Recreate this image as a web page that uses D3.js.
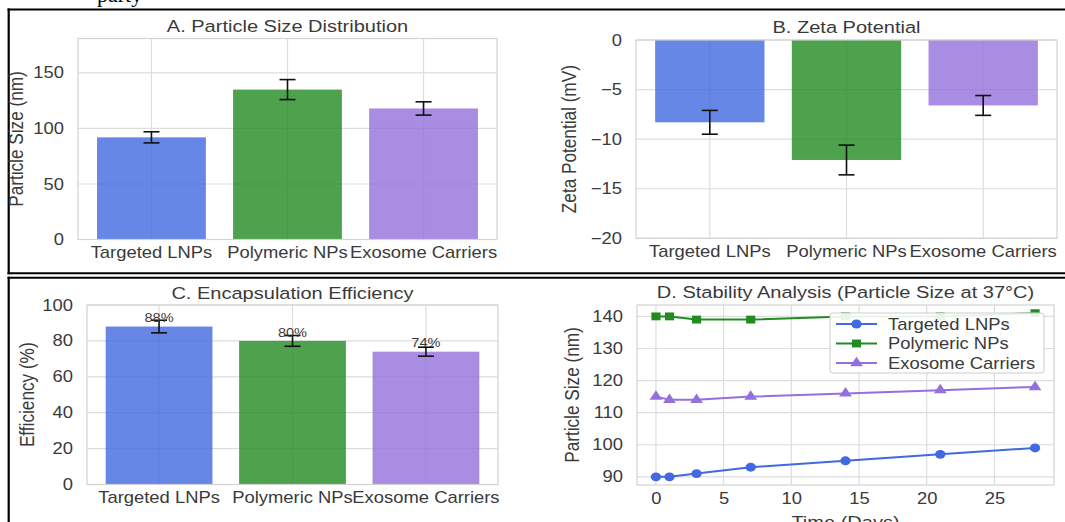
<!DOCTYPE html>
<html><head><meta charset="utf-8">
<script src="https://cdn.jsdelivr.net/npm/d3@7"></script>
<style>body{margin:0;background:#fff;} svg{display:block;}</style>
</head><body>
<script>
// ---------- data ----------
const categories = ["Targeted LNPs", "Polymeric NPs", "Exosome Carriers"];
const particleSize = [92, 135, 118];
const particleSizeErr = [5, 9, 6];
const zetaPotential = [-8.3, -12.1, -6.6];
const zetaErr = [1.2, 1.5, 1.0];
const efficiency = [88, 80, 74];
const efficiencyErr = [3.5, 3, 2.5];
const days = [0, 1, 3, 7, 14, 21, 28];
const stabilityLNP = [90, 90, 91, 93, 95, 97, 99];
const stabilityPoly = [140, 140, 139, 139, 140, 140, 141];
const stabilityExo = [115, 114, 114, 115, 116, 117, 118];
const sizeTicks = [0, 50, 100, 150];
const zetaTicks = [0, -5, -10, -15, -20];
const effTicks = [0, 20, 40, 60, 80, 100];
const dayTicks = [0, 5, 10, 15, 20, 25];
const stabTicks = [90, 100, 110, 120, 130, 140];
const barColors = ["#4169E1", "#228B22", "#9370DB"];

// ---------- style ----------
const SX = 1.165;
const FONT = "'Liberation Sans', Arial, sans-serif";
const TEXT = "#3a3a3a";
const GRID = "#dddddd";
const FRAME = "#d2d2d2";
const TICK = 15.8, LABEL = 17.2, TITLE = 17.2, BARLBL = 12.5;

const svg = d3.select("body").append("svg").attr("width", 1065).attr("height", 522);

function stxt(g, x, y, s, o = {}) {
  return g.append("text")
    .attr("transform", `translate(${x},${y}) scale(${SX},1)${o.rotate ? " rotate(-90)" : ""}`)
    .attr("text-anchor", o.anchor || "middle")
    .attr("font-size", o.size || TICK)
    .attr("font-family", FONT)
    .attr("fill", TEXT)
    .text(s);
}

function styleAxis(sel, left) {
  sel.attr("font-family", FONT).attr("font-size", TICK).attr("color", TEXT);
  sel.select(".domain").remove();
  sel.selectAll(".tick line").remove();
  sel.selectAll("text").attr("transform", `scale(${SX},1)`).attr("fill", TEXT);
  if (left) sel.selectAll("text").attr("x", -14 / SX);
}

// ---------- document frame ----------
const doc = svg.append("g");
doc.append("text").attr("x", 97).attr("y", 1.5).attr("font-family", "'Liberation Serif', 'Times New Roman', serif")
  .attr("font-size", 22).attr("fill", "#000").text("party");
doc.append("line").attr("x1", 7.5).attr("x2", 1065).attr("y1", 9.5).attr("y2", 9.5).attr("stroke", "#000").attr("stroke-width", 2);
doc.append("line").attr("x1", 8.7).attr("x2", 8.7).attr("y1", 8.5).attr("y2", 274.3).attr("stroke", "#000").attr("stroke-width", 2.2);
doc.append("line").attr("x1", 7.5).attr("x2", 1065).attr("y1", 273.3).attr("y2", 273.3).attr("stroke", "#000").attr("stroke-width", 2);
doc.append("line").attr("x1", 7.5).attr("x2", 1065).attr("y1", 277.7).attr("y2", 277.7).attr("stroke", "#000").attr("stroke-width", 2);
doc.append("line").attr("x1", 8.7).attr("x2", 8.7).attr("y1", 276.7).attr("y2", 522).attr("stroke", "#000").attr("stroke-width", 2.2);

// ---------- bar panels ----------
function barPanel(cfg) {
  const g = svg.append("g");
  const x = d3.scaleBand().domain(categories).range([cfg.left, cfg.right]).paddingInner(0.2).paddingOuter(0.14);
  const y = d3.scaleLinear().domain(cfg.domain).range([cfg.bottom, cfg.top]);
  g.selectAll("line.hg").data(cfg.ticks).join("line").attr("class", "hg")
    .attr("x1", cfg.left).attr("x2", cfg.right).attr("y1", d => y(d)).attr("y2", d => y(d))
    .attr("stroke", GRID).attr("stroke-width", 1.2);
  g.selectAll("line.vg").data(categories).join("line").attr("class", "vg")
    .attr("x1", d => x(d) + x.bandwidth() / 2).attr("x2", d => x(d) + x.bandwidth() / 2)
    .attr("y1", cfg.top).attr("y2", cfg.bottom).attr("stroke", GRID).attr("stroke-width", 1.2);
  const data = cfg.values.map((v, i) => ({ c: categories[i], v, e: cfg.errs[i], color: barColors[i] }));
  g.selectAll("rect.bar").data(data).join("rect").attr("class", "bar")
    .attr("x", d => x(d.c)).attr("width", x.bandwidth())
    .attr("y", d => Math.min(y(0), y(d.v))).attr("height", d => Math.abs(y(d.v) - y(0)))
    .attr("fill", d => d.color).attr("fill-opacity", 0.8);
  const cx = d => x(d.c) + x.bandwidth() / 2;
  const eb = g.selectAll("g.eb").data(data).join("g").attr("class", "eb").attr("stroke", "#111").attr("stroke-width", 1.6);
  eb.append("line").attr("x1", cx).attr("x2", cx).attr("y1", d => y(d.v - d.e)).attr("y2", d => y(d.v + d.e));
  eb.append("line").attr("x1", d => cx(d) - 8).attr("x2", d => cx(d) + 8).attr("y1", d => y(d.v - d.e)).attr("y2", d => y(d.v - d.e));
  eb.append("line").attr("x1", d => cx(d) - 8).attr("x2", d => cx(d) + 8).attr("y1", d => y(d.v + d.e)).attr("y2", d => y(d.v + d.e));
  if (cfg.valueLabels) {
    data.forEach(d => {
      stxt(g, cx(d), y(d.v + 1) - 2.6, `${Math.round(d.v)}%`, { size: BARLBL });
    });
  }
  g.append("rect").attr("x", cfg.left).attr("y", cfg.top).attr("width", cfg.right - cfg.left)
    .attr("height", cfg.bottom - cfg.top).attr("fill", "none").attr("stroke", FRAME).attr("stroke-width", 1.2);
  const ay = g.append("g").attr("transform", `translate(${cfg.left},0)`)
    .call(d3.axisLeft(y).tickValues(cfg.ticks).tickSize(0).tickFormat(d3.format("d")));
  styleAxis(ay, true);
  const ax = g.append("g").attr("transform", `translate(0,${cfg.bottom})`)
    .call(d3.axisBottom(x).tickSize(0).tickPadding(7));
  styleAxis(ax, false);
  stxt(g, (cfg.left + cfg.right) / 2, cfg.titleY, cfg.title, { size: TITLE });
  stxt(g, cfg.ylabelX, (cfg.top + cfg.bottom) / 2, cfg.ylabel, { size: LABEL, rotate: true });
}

barPanel({ left: 78, right: 497, top: 38.5, bottom: 239.5, domain: [0, 181], ticks: sizeTicks,
  values: particleSize, errs: particleSizeErr, title: "A. Particle Size Distribution", titleY: 32,
  ylabel: "Particle Size (nm)", ylabelX: 23 });
barPanel({ left: 636, right: 1057, top: 40, bottom: 238.3, domain: [-20, 0], ticks: zetaTicks,
  values: zetaPotential, errs: zetaErr, title: "B. Zeta Potential", titleY: 33,
  ylabel: "Zeta Potential (mV)", ylabelX: 576 });
barPanel({ left: 87, right: 498, top: 305, bottom: 484.5, domain: [0, 100], ticks: effTicks,
  values: efficiency, errs: efficiencyErr, title: "C. Encapsulation Efficiency", titleY: 299,
  ylabel: "Efficiency (%)", ylabelX: 34, valueLabels: true });

// ---------- line panel ----------
(function () {
  const left = 637, right = 1054, top = 305, bottom = 485;
  const g = svg.append("g");
  const series = [
    { name: categories[0], values: stabilityLNP, color: barColors[0], symbol: d3.symbolCircle, size: 62 },
    { name: categories[1], values: stabilityPoly, color: barColors[1], symbol: d3.symbolSquare, size: 62 },
    { name: categories[2], values: stabilityExo, color: barColors[2], symbol: d3.symbolTriangle, size: 52 }
  ];
  const dx = d3.extent(days), dy = d3.extent(series.flatMap(s => s.values));
  const mx = (dx[1] - dx[0]) * 0.05, my = (dy[1] - dy[0]) * 0.05;
  const x = d3.scaleLinear().domain([dx[0] - mx, dx[1] + mx]).range([left, right]);
  const y = d3.scaleLinear().domain([dy[0] - my, dy[1] + my]).range([bottom, top]);
  g.selectAll("line.hg").data(stabTicks).join("line").attr("class", "hg")
    .attr("x1", left).attr("x2", right).attr("y1", d => y(d)).attr("y2", d => y(d))
    .attr("stroke", GRID).attr("stroke-width", 1.2);
  g.selectAll("line.vg").data(dayTicks).join("line").attr("class", "vg")
    .attr("x1", d => x(d)).attr("x2", d => x(d)).attr("y1", top).attr("y2", bottom)
    .attr("stroke", GRID).attr("stroke-width", 1.2);
  const line = d3.line().x((d, i) => x(days[i])).y(d => y(d));
  series.forEach(s => {
    g.append("path").attr("d", line(s.values)).attr("fill", "none").attr("stroke", s.color).attr("stroke-width", 2);
    g.selectAll(null).data(s.values).join("path")
      .attr("d", d3.symbol().type(s.symbol).size(s.size)())
      .attr("transform", (d, i) => `translate(${x(days[i])},${y(d)}) scale(${SX},1)`)
      .attr("fill", s.color);
  });
  g.append("rect").attr("x", left).attr("y", top).attr("width", right - left).attr("height", bottom - top)
    .attr("fill", "none").attr("stroke", FRAME).attr("stroke-width", 1.2);
  const ay = g.append("g").attr("transform", `translate(${left},0)`)
    .call(d3.axisLeft(y).tickValues(stabTicks).tickSize(0).tickFormat(d3.format("d")));
  styleAxis(ay, true);
  const ax = g.append("g").attr("transform", `translate(0,${bottom})`)
    .call(d3.axisBottom(x).tickValues(dayTicks).tickSize(0).tickPadding(8).tickFormat(d3.format("d")));
  styleAxis(ax, false);
  stxt(g, (left + right) / 2, 298, "D. Stability Analysis (Particle Size at 37°C)", { size: TITLE });
  stxt(g, 579, (top + bottom) / 2, "Particle Size (nm)", { size: LABEL, rotate: true });
  stxt(g, (left + right) / 2, 528, "Time (Days)", { size: LABEL });
  // legend
  const lg = g.append("g");
  lg.append("rect").attr("x", 830).attr("y", 313).attr("width", 214).attr("height", 60).attr("rx", 3)
    .attr("fill", "#fff").attr("fill-opacity", 0.9).attr("stroke", "#cccccc").attr("stroke-width", 1);
  series.forEach((s, i) => {
    const yy = 324 + i * 19.5;
    lg.append("line").attr("x1", 836).attr("x2", 877).attr("y1", yy).attr("y2", yy).attr("stroke", s.color).attr("stroke-width", 2);
    lg.append("path").attr("d", d3.symbol().type(s.symbol).size(s.size)())
      .attr("transform", `translate(856.5,${yy}) scale(${SX},1)`).attr("fill", s.color);
    stxt(lg, 888, yy + 5.5, s.name, { anchor: "start" });
  });
})();
</script>
</body></html>
